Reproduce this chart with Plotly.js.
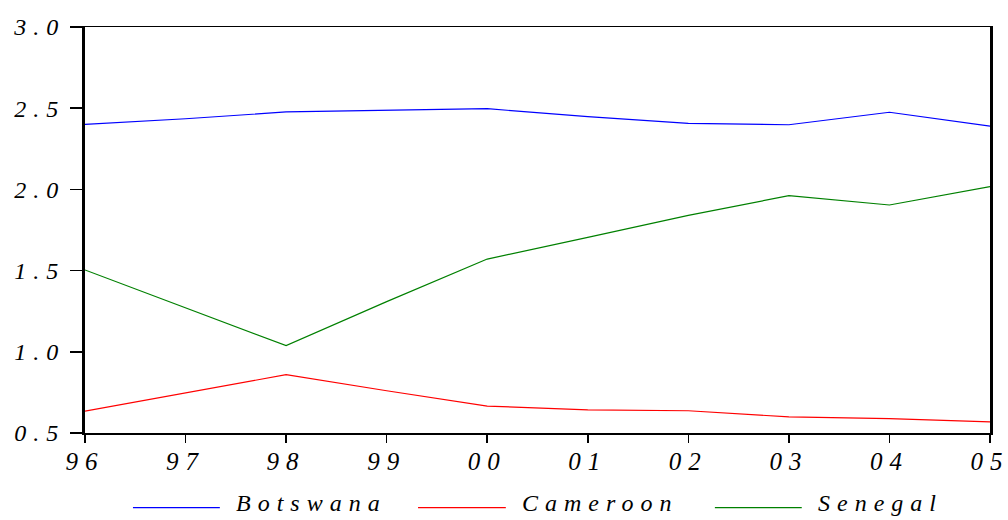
<!DOCTYPE html>
<html>
<head>
<meta charset="utf-8">
<script src="https://cdn.plot.ly/plotly-3.0.1.min.js"></script>
<style>
  html, body { margin: 0; padding: 0; background: #fff; }
  #chart { width: 1008px; height: 520px; }
  .xtick text { letter-spacing: 7px; }
  .ytick text { letter-spacing: 7px; }
  .annotation-text { letter-spacing: 7px; }
</style>
</head>
<body>
<div id="chart"></div>
<script>
const years = [1996, 1997, 1998, 1999, 2000, 2001, 2002, 2003, 2004, 2005];
const yearLabels = ["96", "97", "98", "99", "00", "01", "02", "03", "04", "05"];
const botswana = [2.40, 2.435, 2.477, 2.485, 2.497, 2.448, 2.407, 2.398, 2.475, 2.39];
const cameroon = [0.635, 0.748, 0.859, 0.760, 0.666, 0.643, 0.637, 0.599, 0.588, 0.568];
const senegal = [1.504, 1.27, 1.038, 1.309, 1.571, 1.705, 1.840, 1.961, 1.904, 2.017];
const yTicks = [0.5, 1.0, 1.5, 2.0, 2.5, 3.0];
const yTickLabels = ["0.5", "1.0", "1.5", "2.0", "2.5", "3.0"];
const seriesNames = ["Botswana", "Cameroon", "Senegal"];
const seriesColors = ["#0000ff", "#ff0000", "#008000"];

const fontFam = '"Liberation Serif", "Times New Roman", serif';
const seriesData = [botswana, cameroon, senegal];

const traces = seriesData.map((vals, i) => ({
  x: years, y: vals, name: seriesNames[i], type: "scatter", mode: "lines",
  line: {color: seriesColors[i], width: 1.2}
}));

// manual legend below the plot (paper coordinates)
const legendLineY = -0.184;
const legendTextY = -0.172;
const legendLineX = [[0.053, 0.149], [0.368, 0.465], [0.696, 0.792]];
const legendTextX = [0.165, 0.481, 0.808];
const shapes = seriesNames.map((n, i) => ({
  type: "line", xref: "paper", yref: "paper",
  x0: legendLineX[i][0], x1: legendLineX[i][1], y0: legendLineY, y1: legendLineY,
  line: {color: seriesColors[i], width: 1.2}
}));
const annotations = seriesNames.map((n, i) => ({
  text: n, xref: "paper", yref: "paper", x: legendTextX[i], y: legendTextY,
  xanchor: "left", yanchor: "middle", showarrow: false,
  font: {family: fontFam, size: 24, color: "#000", style: "italic"}
}));

const layout = {
  width: 1008, height: 520,
  margin: {l: 85, r: 18, t: 27, b: 87},
  paper_bgcolor: "#fff", plot_bgcolor: "#fff",
  showlegend: false,
  shapes: shapes,
  annotations: annotations,
  xaxis: {
    range: [1996, 2005], tickvals: years, ticktext: yearLabels,
    showgrid: false, zeroline: false,
    showline: true, linecolor: "#000", linewidth: 1.5, mirror: true,
    ticks: "outside", ticklen: 8, tickwidth: 1.5, tickcolor: "#000",
    ticklabeloverflow: "allow", ticklabelstandoff: -3,
    tickfont: {family: fontFam, size: 25, color: "#000", style: "italic"}
  },
  yaxis: {
    range: [0.5, 3.0], tickvals: yTicks, ticktext: yTickLabels,
    showgrid: false, zeroline: false,
    showline: true, linecolor: "#000", linewidth: 3, mirror: true,
    ticks: "outside", ticklen: 12, tickwidth: 1.5, tickcolor: "#000",
    tickfont: {family: fontFam, size: 24, color: "#000", style: "italic"}
  }
};

Plotly.newPlot("chart", traces, layout, {displayModeBar: false, staticPlot: true});
</script>
</body>
</html>
